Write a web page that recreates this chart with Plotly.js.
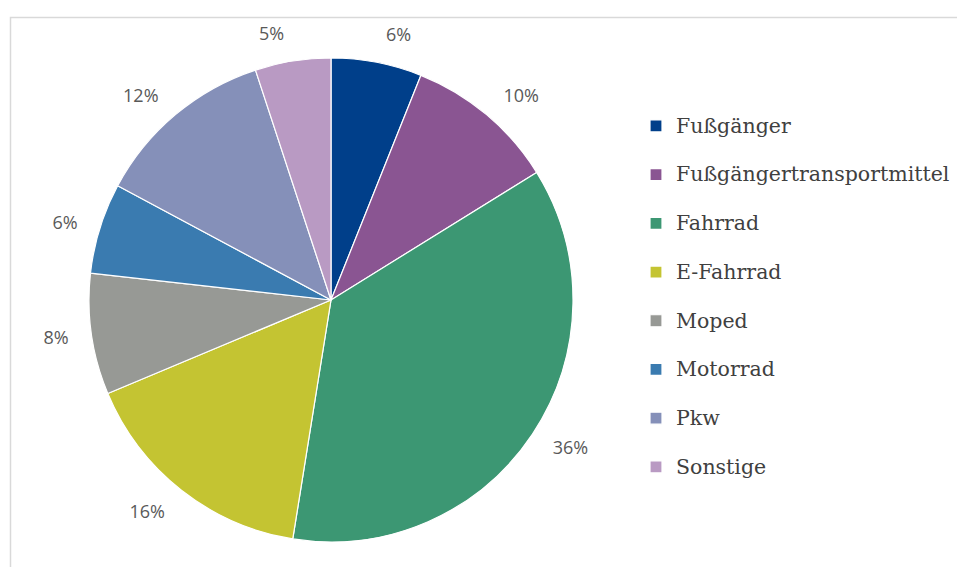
<!DOCTYPE html>
<html>
<head>
<meta charset="utf-8">
<script src="https://cdn.plot.ly/plotly-3.0.1.min.js"></script>
<style>html,body{margin:0;padding:0;background:#fff;}#chart{width:957px;height:567px;}</style>
</head>
<body>
<div id="chart"></div>
<script>
var categories = ["Fußgänger", "Fußgängertransportmittel", "Fahrrad", "E-Fahrrad", "Moped", "Motorrad", "Pkw", "Sonstige"];
var shares = [6, 10, 36, 16, 8, 6, 12, 5];
var colors = ["#003f8a", "#8a5592", "#3c9773", "#c4c432", "#979995", "#3a7bb0", "#8590b9", "#b99ac3"];

var W = 957, H = 567;
var cx = 331, cy = 300, R = 242, RL = 259;

function dom(r) {
  return {
    x: [(cx - r) / W, (cx + r) / W],
    y: [(H - cy - r) / H, (H - cy + r) / H]
  };
}

var legendLabels = categories.map(function (c) {
  return '<span style="font-size:20.5px">' + c + '</span><br>&nbsp;';
});

var pie = {
  type: "pie",
  labels: legendLabels,
  values: shares,
  textinfo: "none",
  sort: false,
  direction: "clockwise",
  rotation: 0,
  marker: { colors: colors, line: { color: "#ffffff", width: 1.2 } },
  hoverinfo: "none",
  domain: dom(R)
};

var labelsPie = {
  type: "pie",
  labels: legendLabels,
  values: shares,
  text: shares.map(function (v) { return v + "%"; }),
  texttemplate: "%{text}",
  textinfo: "text",
  textposition: "outside",
  sort: false,
  direction: "clockwise",
  rotation: 0,
  showlegend: false,
  marker: { colors: shares.map(function () { return "rgba(0,0,0,0)"; }), line: { width: 0 } },
  outsidetextfont: { family: "Open Sans, sans-serif", size: 18, color: "#595959" },
  hoverinfo: "none",
  domain: dom(RL)
};

var layout = {
  width: W, height: H,
  margin: { l: 0, r: 0, t: 0, b: 0 },
  paper_bgcolor: "#ffffff",
  showlegend: true,
  legend: {
    x: 636 / W, xanchor: "left",
    y: 1 - 108 / H, yanchor: "top",
    font: { family: "DejaVu Serif, serif", size: 17.58, color: "#404040" },
    valign: "top",
    itemwidth: 30,
    bgcolor: "rgba(0,0,0,0)"
  },
  shapes: [{
    type: "rect", xref: "paper", yref: "paper",
    x0: 10.5 / W, x1: 1.05, y0: -0.05, y1: 1 - 17.5 / H,
    line: { color: "#d9d9d9", width: 1.5 }, fillcolor: "rgba(0,0,0,0)", layer: "below"
  }]
};

Plotly.newPlot("chart", [labelsPie, pie], layout, { displayModeBar: false, staticPlot: true });
</script>
</body>
</html>
